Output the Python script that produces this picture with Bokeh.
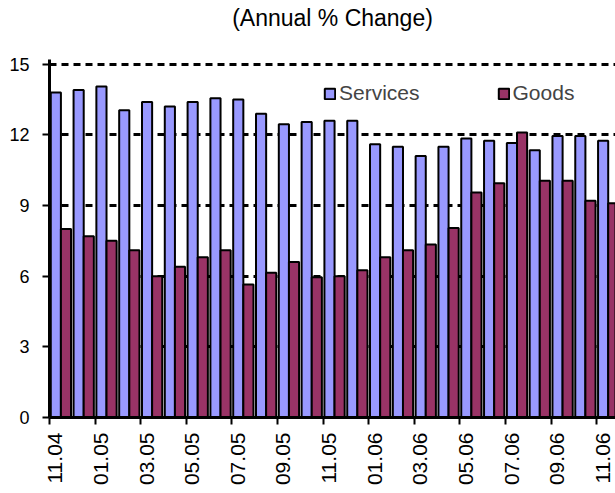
import numpy as np
from bokeh.plotting import figure
from bokeh.models import Range1d, FixedTicker, Legend, LegendItem, LinearAxis, Title
from bokeh.embed import file_html
from bokeh.resources import INLINE

months = ["11.04", "12.04", "01.05", "02.05", "03.05", "04.05", "05.05", "06.05",
          "07.05", "08.05", "09.05", "10.05", "11.05", "12.05", "01.06", "02.06",
          "03.06", "04.06", "05.06", "06.06", "07.06", "08.06", "09.06", "10.06", "11.06"]
services = [13.8, 13.9, 14.05, 13.05, 13.4, 13.2, 13.4, 13.55, 13.5, 12.9, 12.45, 12.55,
            12.6, 12.6, 11.6, 11.5, 11.1, 11.5, 11.85, 11.75, 11.65, 11.35, 11.95, 11.95, 11.75]
goods = [8.0, 7.7, 7.5, 7.1, 6.0, 6.4, 6.8, 7.1, 5.65, 6.15, 6.6, 5.95,
         6.0, 6.25, 6.8, 7.1, 7.35, 8.05, 9.55, 9.95, 12.1, 10.05, 10.05, 9.2, 9.1]
y_ticks = [0, 3, 6, 9, 12, 15]
title_text = "(Annual % Change)"

FONT = "Liberation Sans"
n = len(months)
idx = np.arange(n)
X_END = 24.82
LABEL_SHIFT = 0.26

p = figure(width=615, height=493, output_backend="svg", toolbar_location=None,
           x_range=Range1d(0, X_END), y_range=Range1d(0, 15.2),
           min_border_left=49, min_border_right=0, min_border_top=59, min_border_bottom=76)

# spacer between the frame and the title
p.add_layout(Title(text=" ", text_font_size="1px", standoff=22), "above")

p.title.text = title_text
p.title.align = "center"
p.title.vertical_align = "middle"
p.title.standoff = 6
p.title.text_font = FONT
p.title.text_font_size = "23px"
p.title.text_font_style = "normal"
p.title.text_color = "black"

p.outline_line_color = None
p.xgrid.visible = False
p.ygrid.ticker = FixedTicker(ticks=y_ticks[1:])
p.ygrid.grid_line_color = "black"
p.ygrid.grid_line_width = 3
p.ygrid.grid_line_dash = "7 5"

r1 = p.vbar(x=idx + 0.5 - 0.222, top=services, width=0.445, bottom=0,
            fill_color="#9999FF", line_color="black", line_width=2)
r2 = p.vbar(x=idx + 0.5 + 0.222, top=goods, width=0.445, bottom=0,
            fill_color="#993366", line_color="black", line_width=2)

# y axis
p.yaxis.ticker = FixedTicker(ticks=y_ticks)
p.yaxis.axis_line_width = 3
p.yaxis.major_tick_line_width = 2
p.yaxis.major_tick_in = 0
p.yaxis.major_tick_out = 7
p.yaxis.minor_tick_line_color = None
p.yaxis.major_label_standoff = 13
p.yaxis.major_label_text_font = FONT
p.yaxis.major_label_text_font_size = "18px"
p.yaxis.major_label_text_color = "black"

# x axis: tick marks at category boundaries (no labels)
tick_pos = list(range(0, n, 2))
p.xaxis.ticker = FixedTicker(ticks=tick_pos)
p.xaxis.major_label_overrides = {i: "" for i in tick_pos}
p.xaxis.major_label_text_font_size = "0px"
p.xaxis.major_label_standoff = 0
p.xaxis.axis_line_width = 3
p.xaxis.major_tick_line_width = 2
p.xaxis.major_tick_in = 0
p.xaxis.major_tick_out = 7
p.xaxis.minor_tick_line_color = None

# label axis, slightly shifted right like the original
p.extra_x_ranges = {"lbl": Range1d(-LABEL_SHIFT, X_END - LABEL_SHIFT)}
lab_axis = LinearAxis(x_range_name="lbl", ticker=FixedTicker(ticks=tick_pos),
                      major_label_overrides={i: months[i] for i in tick_pos},
                      axis_line_color=None, major_tick_line_color=None,
                      minor_tick_line_color=None, major_tick_in=0, major_tick_out=0,
                      major_label_orientation=np.pi / 2, major_label_standoff=8,
                      major_label_text_font=FONT, major_label_text_font_size="21px",
                      major_label_text_color="black")
p.add_layout(lab_axis, "below")

legend = Legend(items=[LegendItem(label="Services", renderers=[r1]),
                       LegendItem(label="Goods", renderers=[r2])],
                orientation="horizontal", location=(274, 312), spacing=77,
                glyph_width=13, glyph_height=13, label_standoff=3,
                label_text_font=FONT, label_text_font_size="21px",
                padding=0, margin=0, border_line_color=None,
                background_fill_alpha=0)
p.add_layout(legend)

open("out.html", "w").write(file_html(p, INLINE))
